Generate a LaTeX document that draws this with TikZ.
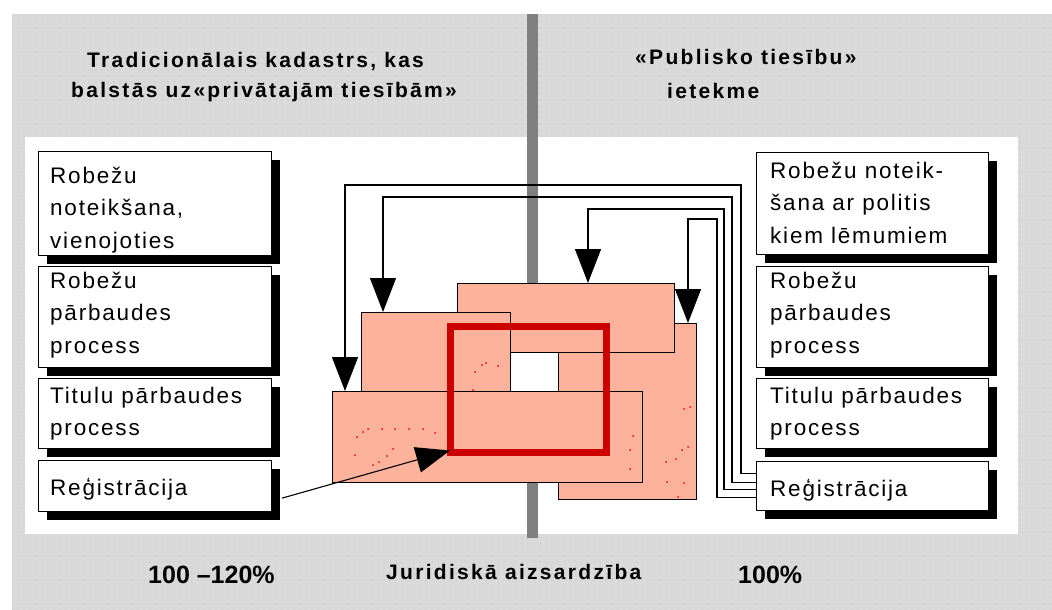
\documentclass[tikz,border=0pt]{standalone}
\usepackage{fontspec}
\setmainfont{Liberation Sans}
\newfontfamily\boxfont[LetterSpace=8]{Liberation Sans}
\newfontfamily\titlefont[LetterSpace=11]{Liberation Sans}
\newfontfamily\numfont{Liberation Sans}
\usetikzlibrary{arrows.meta,calc,shadows,patterns.meta}
\definecolor{bggray}{RGB}{218,218,218}
\definecolor{salm}{RGB}{253,178,155}
\definecolor{framered}{RGB}{204,0,0}
\definecolor{bargray}{RGB}{128,128,128}
\begin{document}
\begin{tikzpicture}[x=1pt,y=-1pt,
  box/.style={draw=black, line width=1.2pt, fill=white, rectangle, inner sep=0pt,
    anchor=north west, minimum width=233pt,
    drop shadow={shadow xshift=8pt, shadow yshift=-8pt, fill=black, opacity=1}},
  srect/.style={draw=black, line width=1.2pt, fill=salm, rectangle, inner sep=0pt, anchor=north west},
  btxt/.style={anchor=base west, inner sep=0pt, font=\boxfont\fontsize{22.5}{32.5}\selectfont},
  ttxt/.style={anchor=base west, inner sep=0pt, font=\titlefont\bfseries\fontsize{21}{24}\selectfont},
  ntxt/.style={anchor=base west, inner sep=0pt, font=\numfont\bfseries\fontsize{25}{30}\selectfont},
  conn/.style={draw=black, line width=1.3pt},
  tip/.style={-{Triangle[width=26pt,length=34pt]}},
  rdot/.style={fill=red}
]
\useasboundingbox (0,0) rectangle (1052,610);
% backgrounds
\fill[bggray] (12,14) rectangle (1052,610);
\fill[pattern={Dots[radius=0.6pt,distance=6pt]}, pattern color=gray!55] (12,14) rectangle (1052,610);
\fill[white] (25,137) rectangle (1018,534);
\fill[bargray] (527,14) rectangle (538,538);

% titles
\node[ttxt] (t1) at (87,67) {Tradicionālais kadastrs, kas};
\node[ttxt] (t2) at (71,97) {balstās uz«privātajām tiesībām»};
\node[ttxt] (t3) at (635,65) {«Publisko tiesību»};
\node[ttxt] (t4) at (667,99) {ietekme};

% left boxes
\node[box, minimum height=104pt] (L1) at (38,151) {};
\node[box, minimum height=101pt] (L2) at (38,266) {};
\node[box, minimum height=70pt]  (L3) at (38,378) {};
\node[box, minimum height=51pt]  (L4) at (38,460) {};
% right boxes
\node[box, minimum height=102pt, minimum width=232pt] (R1) at (756,152) {};
\node[box, minimum height=101pt, minimum width=232pt] (R2) at (756,266) {};
\node[box, minimum height=70pt, minimum width=232pt]  (R3) at (756,378) {};
\node[box, minimum height=49pt, minimum width=232pt]  (R4) at (756,461) {};

% box texts
\node[btxt] (tL1) at ($(L1.north west)+(12,32)$) {\parbox[t]{220pt}{Robežu\\noteikšana,\\vienojoties}};
\node[btxt] (tL2) at ($(L2.north west)+(12,22)$) {\parbox[t]{220pt}{Robežu\\pārbaudes\\process}};
\node[btxt] (tL3) at ($(L3.north west)+(12,25)$) {\parbox[t]{220pt}{Titulu pārbaudes\\process}};
\node[btxt] (tL4) at ($(L4.north west)+(12,35)$) {Reģistrācija};
\node[btxt] (tR1) at ($(R1.north west)+(14,26)$) {\parbox[t]{220pt}{Robežu noteik-\\šana ar politis\\kiem lēmumiem}};
\node[btxt] (tR2) at ($(R2.north west)+(14,22)$) {\parbox[t]{220pt}{Robežu\\pārbaudes\\process}};
\node[btxt] (tR3) at ($(R3.north west)+(14,25)$) {\parbox[t]{220pt}{Titulu pārbaudes\\process}};
\node[btxt] (tR4) at ($(R4.north west)+(14,35)$) {Reģistrācija};

% central composite
\fill[white] (510,352) rectangle (558,391);
\node[srect, minimum width=138pt, minimum height=176pt] (D) at (558,323) {};
\node[srect, minimum width=217pt, minimum height=69pt]  (C) at (457,283) {};
\node[srect, minimum width=149pt, minimum height=79pt]  (B) at (361,312) {};
\node[srect, minimum width=310pt, minimum height=91pt]  (A) at (332,391) {};
\foreach \p in {(355,455),(357,437),(363,432),(368,429),(382,429),(395,429),(409,429),(423,429),(435,433),
  (373,465),(379,462),(387,456),(393,449),(475,372),(482,365),(486,363),(498,366),(473,390),
  (690,407),(684,409),(633,436),(630,450),(688,447),(682,450),(676,459),(666,462),(630,469),(667,482),(684,483),(678,497)}
  \fill[rdot] \p circle (1pt);
\node[draw=framered, line width=7pt, rectangle, inner sep=0pt, anchor=north west,
  minimum width=156pt, minimum height=126pt] (F) at (447,322.5) {};

% connectors
\draw[conn, tip] ($(R4.west)+(0,-12.5)$) -| (741,185) -| ($(A.north west)+(13,0)$);
\draw[conn, tip] ($(R4.west)+(0,-3.5)$) -| (732,197) -| ($(B.north west)+(22,0)$);
\draw[conn, tip] ($(R4.west)+(0,3.5)$) -| (724,209) -| ($(C.north west)+(131,0)$);
\draw[conn, tip] ($(R4.west)+(0,11.5)$) -| (717,219) -| ($(D.north west)+(130,0)$);
\draw[conn, line width=1.1pt, tip] ($(L4.east)+(10,12)$) -- ($(F.south west)+(3,-5)$);

% bottom labels
\node[ntxt] (p1) at (148,583) {100 –120\%};
\node[ttxt] (jur) at (386,579) {Juridiskā aizsardzība};
\node[ntxt] (p2) at (738,583) {100\%};
\end{tikzpicture}
\end{document}
